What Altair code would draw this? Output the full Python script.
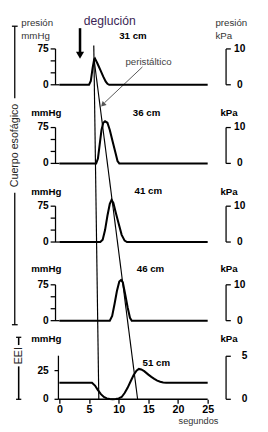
import altair as alt
import pandas as pd

# ---------------- data ----------------
panels = ["31 cm", "36 cm", "41 cm", "46 cm", "51 cm"]

t31 = [0, 5.0, 5.3, 5.6, 5.85, 6.0, 6.4, 6.9, 7.4, 7.8, 8.1, 8.4, 25]
p31 = [0, 0, 8, 35, 52, 55, 45, 31, 17, 7, 2, 0, 0]

t36 = [0, 6.2, 6.5, 6.8, 7.1, 7.4, 7.7, 8.1, 8.5, 9.0, 9.5, 9.8, 10.1, 25]
p36 = [0, 0, 10, 40, 70, 85, 88, 85, 70, 45, 20, 5, 0, 0]

t41 = [0, 6.9, 7.3, 7.7, 8.1, 8.5, 8.8, 9.1, 9.5, 10.0, 10.5, 11.0, 11.4, 25]
p41 = [0, 0, 5, 25, 55, 80, 88, 82, 62, 38, 15, 3, 0, 0]

t46 = [0, 8.5, 8.9, 9.3, 9.7, 10.1, 10.4, 10.7, 11.1, 11.5, 11.9, 12.2, 25]
p46 = [0, 0, 10, 35, 62, 82, 85, 80, 55, 28, 6, 0, 0]

t51 = [0, 5.5, 6.0, 6.5, 7.0, 7.5, 8.0, 8.5, 9.0, 9.5, 10.0, 10.5, 11.0, 11.5,
       12.0, 12.5, 13.0, 13.4, 13.8, 14.3, 15.0, 15.5, 16.0, 16.5, 17.0, 17.5, 18.0, 25]
p51 = [14.5, 14.5, 12, 8, 4.5, 2, 0.8, 0.2, 0, 0.2, 0.8, 2, 5.5, 10,
       15.5, 21, 25, 26.5, 26, 24.5, 21.5, 19.5, 17.8, 16.3, 15.3, 14.7, 14.5, 14.5]

times = [t31, t36, t41, t46, t51]
pressures = [p31, p36, p41, p46, p51]

# swallow marker and peristaltic wave line (seconds, mmHg in panel)
swallow_t = [5.8, 6.65]
wave_t = [5.83, 13.19]
wave_p = [55, 0]           # from 31 cm peak to 51 cm baseline

left_ticks = [0, 25, 50, 75]        # mmHg
left_labels = ["0", "75"]
right_kpa = [0, 10]
eei_left_ticks = [0, 25]
eei_right_kpa = [0, 5]
x_ticks = [0, 5, 10, 15, 20, 25]

# ---------------- layout (plot units) ----------------
FONT = "Liberation Sans"
OFF = [658, 493.5, 329, 164.5, 0]   # vertical offset of each trace
FAC = [1, 1, 1, 1, 2.4]             # vertical gain of each trace
X_DOMAIN = [-8.66, 33.82]
Y_DOMAIN = [0, 805]
KPA = 7.5                            # mmHg per kPa

xs = alt.Scale(domain=X_DOMAIN, nice=False, zero=False)
ys = alt.Scale(domain=Y_DOMAIN, nice=False, zero=False)
xaxis = alt.Axis(values=x_ticks, domain=False, grid=False, tickColor="black",
                 tickSize=4, tickWidth=1.3, labelFont=FONT, labelFontSize=11,
                 labelFontWeight="bold", labelColor="black", labelPadding=1,
                 title="segundos", titleFont=FONT, titleFontSize=9.5,
                 titleFontWeight="normal", titleColor="#333", titleX=196,
                 titleY=22, titleAlign="center", titleBaseline="middle", titleAngle=0)


def X(f):
    return alt.X(f, type="quantitative", scale=xs, axis=xaxis)


def Y(f):
    return alt.Y(f, type="quantitative", scale=ys, axis=None)


# curves
rows = []
for k, (ts, ps) in enumerate(zip(times, pressures)):
    for i, (t, p) in enumerate(zip(ts, ps)):
        rows.append({"panel": panels[k], "i": i, "t": t, "y": OFF[k] + p * FAC[k]})
curves = pd.DataFrame(rows)

line_rows = []
for i, t in enumerate(swallow_t):
    line_rows.append({"id": "deg", "i": i, "t": t, "y": [740, 0][i]})
for i, (t, p) in enumerate(zip(wave_t, wave_p)):
    yk = OFF[0] + p if i == 0 else OFF[4] + p * FAC[4]
    line_rows.append({"id": "wave", "i": i, "t": t, "y": yk})
guide_lines = pd.DataFrame(line_rows)

# rules (axes, brackets)
R = []
def rule(x, x2, y, y2, w=1.3, c="black"):
    R.append({"x": x, "x2": x2, "y": y, "y2": y2, "w": w, "c": c})

for k in range(4):
    o = OFF[k]
    rule(-0.65, -0.65, o, o + 75)
    for v in left_ticks:
        rule(-1.47, 0 if v == 0 else -0.65, o + v, o + v)
    rule(28.1, 28.1, o, o + 75 * FAC[k])
    for v in right_kpa:
        rule(28.1, 28.9, o + v * KPA, o + v * KPA)
# EEI panel
rule(-0.16, -0.16, 0, 38 * FAC[4])
for v in eei_left_ticks:
    rule(-0.82, -0.16, v * FAC[4], v * FAC[4])
rule(-0.16, 25, 0, 0, 1.5)
rule(28.1, 28.1, 0, eei_right_kpa[1] * KPA * FAC[4])
for v in eei_right_kpa:
    rule(28.1, 28.9, v * KPA * FAC[4], v * KPA * FAC[4])
# side brackets: Cuerpo esofágico, EEI
rule(-7.52, -7.52, 630, 780.5)
rule(-7.52, -7.52, 156, 432)
rule(-8.0, -7.03, 780.5, 780.5)
rule(-8.0, -7.03, 156, 156)
rule(-6.86, -6.86, 113.5, 129.7, 1.6)
rule(-6.86, -6.86, 0, 68.9, 1.6)
rule(-7.3, -6.42, 129.7, 129.7)
rule(-7.3, -6.42, 0, 0)
# swallow arrow shaft
rule(3.48, 3.48, 723, 776.4, 2.6)
# peristaltic pointer
rule(14.0, 7.6, 695.3, 620.3, 1, "#555")
rules = pd.DataFrame(R)

# texts
def tdf(items):
    return pd.DataFrame(items, columns=["x", "y", "text"])

tick_lbls = []
for k in range(4):
    tick_lbls.append((-1.8, OFF[k] + 75, left_labels[1]))
    tick_lbls.append((-1.8, OFF[k], left_labels[0]))
tick_lbls.append((-1.8, 25 * FAC[4], "25"))
tick_lbls.append((-1.8, 0, "0"))
right_lbls = []
for k in range(4):
    right_lbls.append((30.4, OFF[k] + 75, str(right_kpa[1])))
    right_lbls.append((30.4, OFF[k], str(right_kpa[0])))
right_lbls.append((31.2, eei_right_kpa[1] * KPA * FAC[4], str(eei_right_kpa[1])))
right_lbls.append((31.2, 0, "0"))

unit_y = [OFF[1] + 104.5, OFF[2] + 104.8, OFF[3] + 107, OFF[4] + 125.7]
mmhg_lbls = [(-4.74, y, "mmHg") for y in unit_y]
kpa_lbls = [(28.6, y, "kPa") for y in unit_y]
cm_x = [12.4, 14.7, 15.0, 15.36, 16.34]
cm_y = [OFF[0] + 102, OFF[1] + 104.5, OFF[2] + 107, OFF[3] + 107, OFF[4] + 75]
cm_lbls = [(x, y, p) for x, y, p in zip(cm_x, cm_y, panels)]
top_lbls = [(-6.42, 786.5, "presión"), (-6.42, 760, "mmHg"),
            (26.3, 786.5, "presión"), (26.3, 760, "kPa")]


def text_layer(items, **kw):
    base = dict(font=FONT, baseline="middle", color="black")
    base.update(kw)
    return alt.Chart(tdf(items)).mark_text(**base).encode(
        x=X("x"), y=Y("y"), text=alt.Text("text:N"))


layers = [
    alt.Chart(rules).mark_rule().encode(
        x=X("x"), x2=alt.X2("x2"), y=Y("y"), y2=alt.Y2("y2"),
        strokeWidth=alt.StrokeWidth("w:Q", scale=None),
        color=alt.Color("c:N", scale=None)),
    alt.Chart(guide_lines).mark_line(color="black", strokeWidth=1.2).encode(
        x=X("t"), y=Y("y"), detail="id:N", order="i:Q"),
    alt.Chart(curves).mark_line(color="black", strokeWidth=2.1).encode(
        x=X("t"), y=Y("y"), detail="panel:N", order="i:Q"),
    alt.Chart(pd.DataFrame({"x": [3.48], "y": [719.6]})).mark_point(
        shape="triangle-down", filled=True, color="black", size=70, opacity=1).encode(
        x=X("x"), y=Y("y")),
    alt.Chart(pd.DataFrame({"x": [7.43], "y": [617.3]})).mark_point(
        shape="triangle", angle=225, filled=True, color="#555", size=35, opacity=1).encode(
        x=X("x"), y=Y("y")),
    text_layer(tick_lbls, align="right", fontSize=10.5, fontWeight="bold"),
    text_layer(right_lbls, align="center", fontSize=10.5, fontWeight="bold"),
    text_layer(mmhg_lbls, align="left", fontSize=10, fontWeight="bold"),
    text_layer(kpa_lbls, align="center", fontSize=10, fontWeight="bold"),
    text_layer(cm_lbls, align="center", fontSize=10, fontWeight="bold"),
    text_layer(top_lbls, align="left", fontSize=10, color="#333"),
    text_layer([(8.5, 790.6, "deglución")], align="center", fontSize=12.5,
               color="#3b1f55"),
    text_layer([(15.03, 705.5, "peristáltico")], align="center", fontSize=10,
               color="#444"),
    text_layer([(-7.52, 531, "Cuerpo esofágico")], align="center", fontSize=11,
               angle=270, color="#222"),
    text_layer([(-6.86, 91.2, "EEI")], align="center", fontSize=11,
               angle=270, color="#222"),
]

chart = alt.layer(*layers).properties(
    width=260, height=397,
    autosize=alt.AutoSizeParams(type="none"),
    padding={"left": 0, "top": 0, "right": 0, "bottom": 26},
    background="white",
).configure_view(stroke=None)

chart.save("out.html", embed_options={"renderer": "svg", "actions": False})
